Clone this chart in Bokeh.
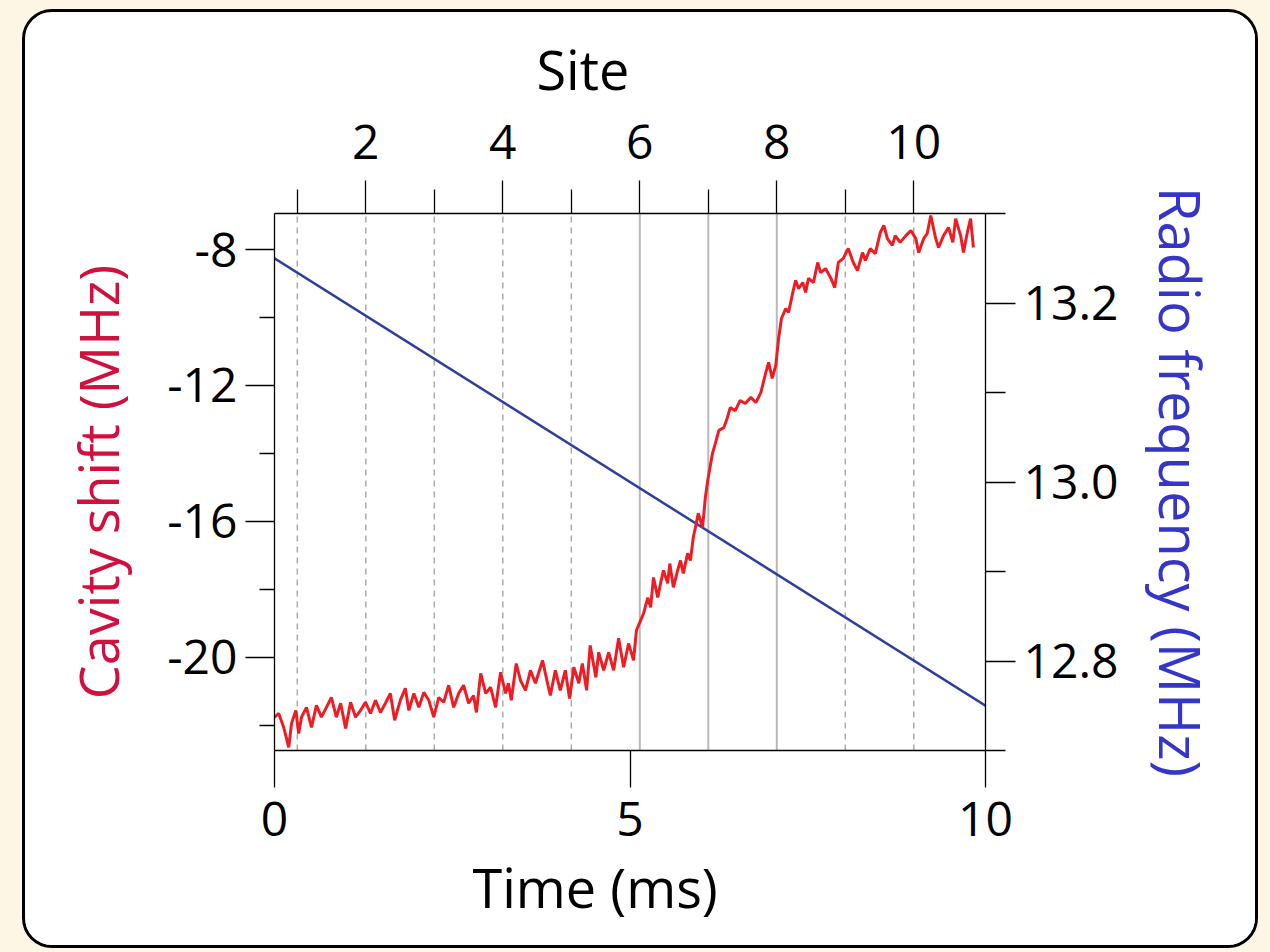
from bokeh.plotting import figure
from bokeh.layouts import column
from bokeh.models import (Range1d, LinearAxis, FixedTicker, NumeralTickFormatter, Title)
from bokeh.embed import file_html
from bokeh.resources import INLINE

# ---------------- data ----------------
time_ms = [0.00, 0.06, 0.13, 0.20, 0.24, 0.30, 0.34, 0.38, 0.45, 0.52, 0.59, 0.66, 0.73, 0.80,
           0.87, 0.93, 1.00, 1.07, 1.14, 1.21, 1.28, 1.35, 1.42, 1.49, 1.56, 1.63, 1.69, 1.77,
           1.84, 1.89, 1.96, 2.03, 2.10, 2.17, 2.24, 2.31, 2.38, 2.45, 2.52, 2.59, 2.66, 2.73,
           2.80, 2.84, 2.90, 2.97, 3.04, 3.11, 3.18, 3.25, 3.29, 3.33, 3.40, 3.46, 3.53, 3.60,
           3.67, 3.77, 3.84, 3.88, 3.95, 4.02, 4.09, 4.15, 4.21, 4.28, 4.33, 4.39, 4.44, 4.52,
           4.56, 4.63, 4.70, 4.77, 4.84, 4.91, 4.98, 5.05, 5.09, 5.15, 5.19, 5.25, 5.29, 5.33,
           5.39, 5.43, 5.47, 5.53, 5.56, 5.61, 5.67, 5.71, 5.75, 5.81, 5.85, 5.89, 5.92, 5.96,
           6.02, 6.06, 6.10, 6.16, 6.20, 6.25, 6.32, 6.37, 6.41, 6.48, 6.55, 6.62, 6.70, 6.77,
           6.84, 6.91, 6.95, 7.00, 7.05, 7.09, 7.13, 7.19, 7.23, 7.29, 7.33, 7.37, 7.43, 7.47,
           7.51, 7.58, 7.64, 7.68, 7.75, 7.82, 7.88, 7.93, 8.00, 8.07, 8.14, 8.20, 8.27, 8.31,
           8.38, 8.45, 8.52, 8.57, 8.62, 8.69, 8.73, 8.80, 8.88, 8.95, 9.02, 9.06, 9.13, 9.18,
           9.23, 9.30, 9.34, 9.41, 9.48, 9.54, 9.58, 9.65, 9.69, 9.75, 9.79, 9.83]

cavity_shift = [-21.76, -21.65, -22.06, -22.65, -21.94, -21.56, -22.24, -21.76, -21.47, -22.06,
                -21.41, -21.76, -21.47, -21.18, -21.76, -21.35, -22.09, -21.32, -21.76, -21.56,
                -21.32, -21.65, -21.26, -21.62, -21.35, -21.06, -21.85, -21.26, -20.91, -21.56,
                -21.06, -21.47, -21.03, -21.26, -21.76, -21.18, -21.32, -20.82, -21.47, -21.06,
                -20.82, -21.35, -21.12, -21.62, -20.47, -21.06, -20.88, -21.47, -20.44, -21.06,
                -20.76, -21.26, -20.18, -20.68, -20.97, -20.38, -20.76, -20.09, -20.76, -21.12,
                -20.38, -20.97, -20.38, -21.21, -20.29, -20.76, -20.18, -20.97, -19.65, -20.59,
                -19.85, -20.38, -19.85, -20.38, -19.44, -20.29, -19.59, -20.09, -19.21, -18.91,
                -18.71, -18.24, -18.53, -17.65, -18.24, -17.82, -17.44, -17.82, -17.24, -17.94,
                -17.44, -17.15, -17.53, -16.94, -17.15, -16.47, -16.18, -15.76, -16.18, -15.29,
                -14.71, -14.00, -13.71, -13.32, -13.24, -12.94, -12.65, -12.74, -12.44, -12.53,
                -12.35, -12.50, -12.21, -11.62, -11.32, -11.79, -11.41, -10.62, -10.03, -9.74,
                -9.85, -9.26, -8.91, -9.15, -8.97, -9.26, -8.85, -8.97, -8.38, -8.68,
                -8.56, -8.82, -9.12, -8.38, -8.26, -7.97, -8.38, -8.62, -8.09, -8.32,
                -7.97, -8.12, -7.50, -7.29, -7.68, -7.88, -7.59, -7.79, -7.59, -7.44,
                -7.68, -8.09, -7.68, -7.53, -7.00, -7.68, -7.94, -7.59, -7.35, -7.79,
                -7.09, -7.59, -8.09, -7.44, -7.09, -7.94]

rf_time = [0.0, 10.0]
rf_freq = [13.25, 12.75]

sites_dashed = [1, 2, 3, 4, 5, 9, 10]
sites_solid = [6, 7, 8]

left_major = [-20, -16, -12, -8]
left_minor = [-22, -18, -14, -10]
right_major = [12.8, 13.0, 13.2]
right_minor = [12.7, 12.9, 13.1, 13.3]
bottom_major = [0, 5, 10]
top_major = [2, 4, 6, 8, 10]
top_minor = [1, 3, 5, 7, 9]

# ---------------- styling ----------------
CREAM = "#FEF6E4"
RED = "#EE1D24"
BLUE = "#2E409C"
LABEL_RED = "#D0103F"
LABEL_BLUE = "#3535C8"
FONT = "Open Sans"
TICK_FS = "48px"
LABEL_FS = "54px"

Y0, Y1 = -22.74, -6.94

p = figure(width=1236, height=939, x_range=Range1d(0, 10), y_range=Range1d(Y0, Y1),
           output_backend="svg", toolbar_location=None,
           min_border_left=249, min_border_right=276, min_border_top=201, min_border_bottom=201,
           border_fill_color="white", background_fill_color="white", outline_line_color=None)
p.styles = {"border": "3px solid black", "border-radius": "30px", "overflow": "hidden"}
p.margin = (9, 0, 0, 22)
p.extra_x_ranges = {"site": Range1d(0.667, 11.047)}
p.extra_y_ranges = {"rf": Range1d(12.7, 13.3)}
p.xgrid.visible = False
p.ygrid.visible = False


def style_axis(ax, major_out, minor_out, standoff):
    ax.axis_line_color = "black"
    ax.axis_line_width = 1.3
    ax.major_tick_line_color = "black"
    ax.major_tick_line_width = 1.3
    ax.minor_tick_line_color = "black"
    ax.minor_tick_line_width = 1.3
    ax.major_tick_in = 0
    ax.minor_tick_in = 0
    ax.major_tick_out = major_out
    ax.minor_tick_out = minor_out
    ax.major_label_standoff = standoff
    ax.major_label_text_font = FONT
    ax.major_label_text_font_size = TICK_FS
    ax.major_label_text_color = "black"
    ax.axis_label_text_font = FONT
    ax.axis_label_text_font_size = LABEL_FS
    ax.axis_label_text_font_style = "normal"


# left axis
yl = p.yaxis[0]
yl.ticker = FixedTicker(ticks=left_major, minor_ticks=left_minor)
yl.formatter = NumeralTickFormatter(format="0")
style_axis(yl, 29, 15, 8)
yl.axis_label = "Cavity shift (MHz)"
yl.axis_label_text_color = LABEL_RED
yl.axis_label_standoff = 29

# bottom axis
xb = p.xaxis[0]
xb.ticker = FixedTicker(ticks=bottom_major, minor_ticks=[])
xb.formatter = NumeralTickFormatter(format="0")
style_axis(xb, 37, 0, 14)

# right axis
yr = LinearAxis(y_range_name="rf", ticker=FixedTicker(ticks=right_major, minor_ticks=right_minor),
                formatter=NumeralTickFormatter(format="0.0"))
style_axis(yr, 30, 20, 8)
yr.axis_label = "Radio frequency (MHz)"
yr.axis_label_text_color = LABEL_BLUE
yr.axis_label_text_font_size = "56px"
yr.axis_label_standoff = 22
p.add_layout(yr, "right")

# top axis
xt = LinearAxis(x_range_name="site", ticker=FixedTicker(ticks=top_major, minor_ticks=top_minor),
                formatter=NumeralTickFormatter(format="0"))
style_axis(xt, 33, 24, 22)
p.add_layout(xt, "above")

# outer titles (offset like the original)
p.add_layout(Title(text="Site", align="left", offset=262, standoff=32,
                   text_font=FONT, text_font_size=LABEL_FS, text_font_style="normal",
                   text_color="black"), "above")
p.add_layout(Title(text="Time (ms)", align="left", offset=198, standoff=19,
                   text_font=FONT, text_font_size=LABEL_FS, text_font_style="normal",
                   text_color="black"), "below")

# site lines
p.segment(x0=sites_dashed, x1=sites_dashed, y0=[Y0] * len(sites_dashed), y1=[Y1] * len(sites_dashed),
          x_range_name="site", line_color="#ABABAB", line_width=1.5, line_dash="6 5")
p.segment(x0=sites_solid, x1=sites_solid, y0=[Y0] * len(sites_solid), y1=[Y1] * len(sites_solid),
          x_range_name="site", line_color="#B9B9B9", line_width=2)

# radio frequency ramp
p.line(rf_time, rf_freq, y_range_name="rf", line_color=BLUE, line_width=2.5)

# cavity shift trace
p.line(time_ms, cavity_shift, line_color=RED, line_width=3)

layout = column(p, width=1270, height=952, styles={"background-color": CREAM})

open("out.html", "w").write(file_html(layout, INLINE))
